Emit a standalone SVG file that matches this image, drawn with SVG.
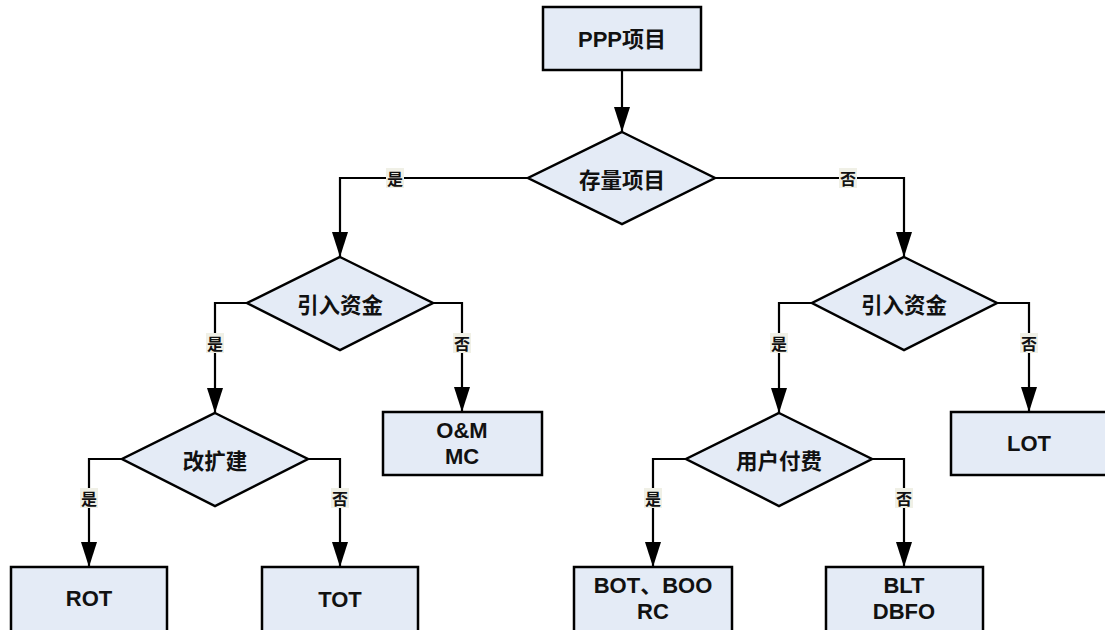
<svg xmlns="http://www.w3.org/2000/svg" width="1105" height="630" viewBox="0 0 1105 630">
<defs>
<style>
.box{fill:#e4ebf6;stroke:#000;stroke-width:2.5}
.dia{fill:#e4ebf6;stroke:#000;stroke-width:2.5;stroke-linejoin:miter}
.t{font-family:"Liberation Sans","Noto Sans CJK SC",sans-serif;font-weight:bold;font-size:22px;text-anchor:middle;dominant-baseline:central;fill:#111}
.c{font-family:"Noto Sans CJK SC",sans-serif;font-weight:bold;font-size:21.5px;text-anchor:middle;dominant-baseline:central;fill:#111}
.conn{fill:none;stroke:#000;stroke-width:2.2;marker-end:url(#arr)}
.lb{fill:#f0f0e6}
.lt{font-family:"Noto Sans CJK SC",sans-serif;font-weight:bold;font-size:16px;text-anchor:middle;dominant-baseline:central;fill:#111}
</style>
<marker id="arr" markerUnits="userSpaceOnUse" markerWidth="26" markerHeight="18" refX="25" refY="8" orient="auto">
<path d="M0,0 L25,8 L0,16 Z" fill="#000"/>
</marker>
</defs>
<rect width="1105" height="630" fill="#fff"/>
<g id="connectors">
<path class="conn" d="M622,70 V132"/>
<path class="conn" d="M528,178 H340 V257"/>
<path class="conn" d="M715,178 H904 V257"/>
<path class="conn" d="M247,303 H215 V413"/>
<path class="conn" d="M433,303 H462 V412"/>
<path class="conn" d="M122,459 H89 V567"/>
<path class="conn" d="M308,459 H340 V567"/>
<path class="conn" d="M812,303 H779 V413"/>
<path class="conn" d="M997,303 H1029 V412"/>
<path class="conn" d="M686,459 H653 V567"/>
<path class="conn" d="M872,459 H904 V567"/>
</g>
<g id="labels">
<rect class="lb" x="386" y="168" width="18" height="20"/><text class="lt" x="395" y="178">是</text>
<rect class="lb" x="839" y="168" width="18" height="20"/><text class="lt" x="848" y="178">否</text>
<rect class="lb" x="206" y="333" width="18" height="20"/><text class="lt" x="215" y="343">是</text>
<rect class="lb" x="453" y="333" width="18" height="20"/><text class="lt" x="462" y="343">否</text>
<rect class="lb" x="80" y="488" width="18" height="20"/><text class="lt" x="89" y="498">是</text>
<rect class="lb" x="331" y="488" width="18" height="20"/><text class="lt" x="340" y="498">否</text>
<rect class="lb" x="770" y="333" width="18" height="20"/><text class="lt" x="779" y="343">是</text>
<rect class="lb" x="1020" y="333" width="18" height="20"/><text class="lt" x="1029" y="343">否</text>
<rect class="lb" x="644" y="488" width="18" height="20"/><text class="lt" x="653" y="498">是</text>
<rect class="lb" x="895" y="488" width="18" height="20"/><text class="lt" x="904" y="498">否</text>
</g>
<g id="ppp">
<rect class="box" x="543" y="7" width="158" height="63"/>
<text class="t" x="622" y="39">PPP项目</text>
</g>
<g id="stock">
<polygon class="dia" points="622,132 715,178 622,224 528,178"/>
<text class="c" x="622" y="178">存量项目</text>
</g>
<g id="fundL">
<polygon class="dia" points="340,257 433,303 340,350 247,303"/>
<text class="c" x="340" y="303">引入资金</text>
</g>
<g id="rebuild">
<polygon class="dia" points="215,413 308,459 215,506 122,459"/>
<text class="c" x="215" y="459">改扩建</text>
</g>
<g id="om">
<rect class="box" x="383" y="412" width="159" height="63"/>
<text class="t" x="462" y="430">O&amp;M</text>
<text class="t" x="462" y="456">MC</text>
</g>
<g id="fundR">
<polygon class="dia" points="904,257 997,303 904,350 812,303"/>
<text class="c" x="904" y="303">引入资金</text>
</g>
<g id="userpay">
<polygon class="dia" points="779,413 872,459 779,506 686,459"/>
<text class="c" x="779" y="459">用户付费</text>
</g>
<g id="lot">
<rect class="box" x="951" y="412" width="157" height="63"/>
<text class="t" x="1029" y="443">LOT</text>
</g>
<g id="rot">
<rect class="box" x="11" y="567" width="156" height="66"/>
<text class="t" x="89" y="598">ROT</text>
</g>
<g id="tot">
<rect class="box" x="262" y="567" width="156" height="66"/>
<text class="t" x="340" y="599">TOT</text>
</g>
<g id="bot">
<rect class="box" x="574" y="567" width="158" height="66"/>
<text class="t" x="653" y="585">BOT、BOO</text>
<text class="t" x="653" y="611">RC</text>
</g>
<g id="blt">
<rect class="box" x="826" y="567" width="157" height="66"/>
<text class="t" x="904" y="585">BLT</text>
<text class="t" x="904" y="611">DBFO</text>
</g>
</svg>
